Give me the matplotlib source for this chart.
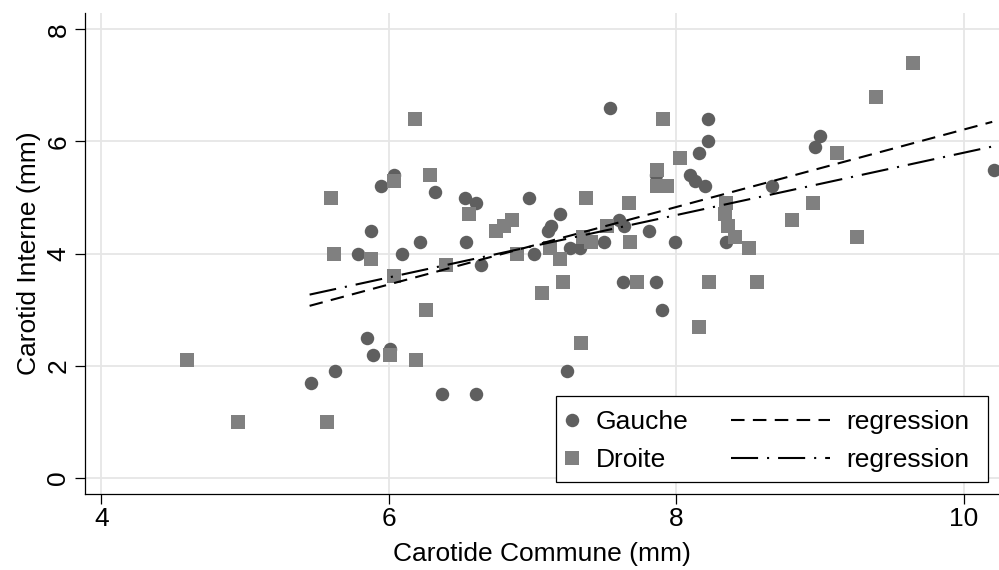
import matplotlib
matplotlib.use("Agg")
import matplotlib.pyplot as plt
from matplotlib.lines import Line2D
from matplotlib.patches import Rectangle

plt.rcParams['font.family'] = ['Liberation Sans', 'DejaVu Sans']

# Gauche (circles)
gauche_x = [5.46, 5.63, 5.85, 5.89, 6.01, 6.37, 6.61, 5.79, 5.88, 6.09,
            6.22, 6.54, 6.64, 5.95, 6.04, 6.32, 6.53, 6.61, 7.54, 8.22,
            8.22, 8.16, 7.86, 8.10, 8.13, 8.20, 8.67, 6.98, 7.19, 7.13,
            7.11, 7.60, 7.64, 7.50, 7.81, 7.99, 8.35, 7.26, 7.33, 7.01,
            7.63, 7.86, 7.90, 7.24, 9.00, 8.97, 10.21]
gauche_y = [1.7, 1.9, 2.5, 2.2, 2.3, 1.5, 1.5, 4.0, 4.4, 4.0,
            4.2, 4.2, 3.8, 5.2, 5.4, 5.1, 5.0, 4.9, 6.6, 6.4,
            6.0, 5.8, 5.4, 5.4, 5.3, 5.2, 5.2, 5.0, 4.7, 4.5,
            4.4, 4.6, 4.5, 4.2, 4.4, 4.2, 4.2, 4.1, 4.1, 4.0,
            3.5, 3.5, 3.0, 1.9, 6.1, 5.9, 5.5]

# Droite (squares)
droite_x = [4.60, 4.95, 5.57, 6.01, 6.19, 6.26, 5.60, 5.62, 5.88, 6.04,
            6.40, 6.04, 6.29, 6.56, 6.18, 7.91, 8.03, 7.87, 7.87, 7.94,
            7.37, 7.67, 6.86, 6.80, 6.75, 7.52, 7.35, 7.41, 7.68, 8.35,
            8.34, 8.36, 8.41, 8.51, 7.12, 6.89, 7.19, 7.21, 7.07, 7.73,
            8.23, 8.56, 8.16, 7.34, 9.65, 9.39, 9.12, 8.95, 8.81, 9.26]
droite_y = [2.1, 1.0, 1.0, 2.2, 2.1, 3.0, 5.0, 4.0, 3.9, 3.6,
            3.8, 5.3, 5.4, 4.7, 6.4, 6.4, 5.7, 5.5, 5.2, 5.2,
            5.0, 4.9, 4.6, 4.5, 4.4, 4.5, 4.3, 4.2, 4.2, 4.9,
            4.7, 4.5, 4.3, 4.1, 4.1, 4.0, 3.9, 3.5, 3.3, 3.5,
            3.5, 3.5, 2.7, 2.4, 7.4, 6.8, 5.8, 4.9, 4.6, 4.3]

# regression lines (end points)
reg_x = [5.45, 10.2]
reg_gauche_y = [3.07, 6.35]
reg_droite_y = [3.27, 5.91]

x_ticks = [4, 6, 8, 10]
y_ticks = [0, 2, 4, 6, 8]

circle_color = '#5f5f5f'
square_color = '#808080'
fs = 19

fig = plt.figure(figsize=(9.99, 5.70), dpi=100)
ax = fig.add_axes([85 / 999, 1 - 494 / 570, 914 / 999, 481.5 / 570])

ax.plot(gauche_x, gauche_y, 'o', color=circle_color, markersize=9.7,
        markeredgewidth=0, zorder=3)
ax.plot(droite_x, droite_y, 's', color=square_color, markersize=9.7,
        markeredgewidth=0, zorder=3)
ax.plot(reg_x, reg_gauche_y, color='black', lw=1.5,
        dashes=(6.5, 4), zorder=4)
ax.plot(reg_x, reg_droite_y, color='black', lw=1.5,
        dashes=(13, 4.3, 1, 4.3), zorder=4)

ax.set_xlim(3.887, 10.247)
ax.set_ylim(-0.285, 8.30)
ax.set_xticks(x_ticks)
ax.set_yticks(y_ticks)
ax.grid(True, color='#e6e6e6', lw=1.3, zorder=0)
ax.set_axisbelow(True)
for side in ['top', 'right']:
    ax.spines[side].set_visible(False)
for side in ['left', 'bottom']:
    ax.spines[side].set_linewidth(0.9)
ax.tick_params(axis='both', length=7, width=0.9, labelsize=fs, color='black')
ax.tick_params(axis='x', pad=2)
ax.tick_params(axis='y', pad=3.5)
for lab in ax.get_yticklabels():
    lab.set_rotation(90)
    lab.set_va('center')

ax.set_xlabel('Carotide Commune (mm)', fontsize=fs, labelpad=8)
ax.set_ylabel('Carotid Interne (mm)', fontsize=fs, labelpad=4)

# legend frame and two columns
fig.patches.append(Rectangle((556 / 999, 1 - 482 / 570), 432 / 999, 86 / 570,
                             transform=fig.transFigure, facecolor='white',
                             edgecolor='black', lw=0.9, zorder=5))
h1 = [Line2D([], [], ls='none', marker='o', color=circle_color,
             markersize=9.7, markeredgewidth=0),
      Line2D([], [], ls='none', marker='s', color=square_color,
             markersize=9.7, markeredgewidth=0)]
leg1 = fig.legend(h1, ['Gauche', 'Droite'], loc='center left',
                  bbox_to_anchor=(556 / 999, 1 - 441 / 570), frameon=False,
                  fontsize=fs, handlelength=1.21, handletextpad=0.3,
                  borderpad=0, borderaxespad=0, labelspacing=0.53)
h2 = [Line2D([], [], color='black', lw=1.5, dashes=(6.5, 4)),
      Line2D([], [], color='black', lw=1.5, dashes=(13, 4.3, 1, 4.3))]
leg2 = fig.legend(h2, ['regression', 'regression'], loc='center left',
                  bbox_to_anchor=(731 / 999, 1 - 441 / 570), frameon=False,
                  fontsize=fs, handlelength=3.75, handletextpad=0.6,
                  borderpad=0, borderaxespad=0, labelspacing=0.53)
leg1.set_zorder(6)
leg2.set_zorder(6)

fig.savefig('out.png', dpi=100)
